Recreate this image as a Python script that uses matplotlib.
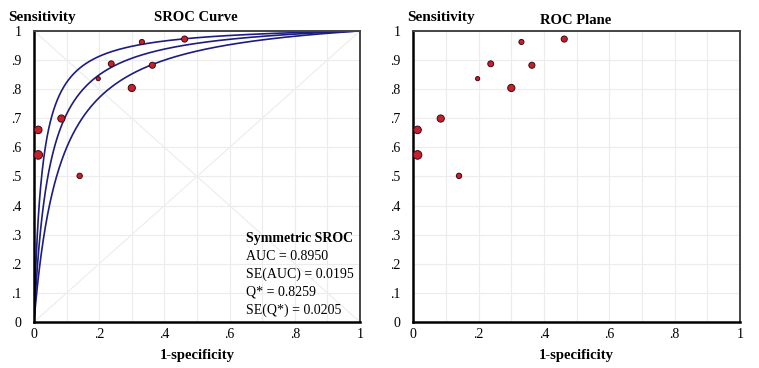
import numpy as np
import matplotlib.pyplot as plt

# study points: 1-specificity, sensitivity, marker diameter (px)
fpr = [0.013, 0.013, 0.084, 0.140, 0.197, 0.237, 0.300, 0.331, 0.363, 0.462]
tpr = [0.660, 0.574, 0.699, 0.502, 0.836, 0.887, 0.804, 0.962, 0.882, 0.972]
weight = [7.6, 8.6, 7.2, 5.4, 4.2, 5.9, 7.2, 5.1, 6.1, 6.1]

# symmetric SROC summary
auc = 0.8950
se_auc = 0.0195
q_star = 0.8259
se_q = 0.0205

ticks = [0, .1, .2, .3, .4, .5, .6, .7, .8, .9, 1]
tick_labels = ["0", ".1", ".2", ".3", ".4", ".5", ".6", ".7", ".8", ".9", "1"]
xticks = [0, .2, .4, .6, .8, 1]
xtick_labels = ["0", ".2", ".4", ".6", ".8", "1"]

plt.rcParams['font.family'] = ['Liberation Serif', 'DejaVu Serif']

FILL = '#c81f2c'
EDGE = '#3a0a12'
NAVY = '#1c1c82'


def logit(p):
    return np.log(p / (1 - p))


def sroc(q, x):
    a = 2 * logit(q)
    return 1 / (1 + np.exp(-(a + logit(x))))


def style_axes(ax):
    ax.set_xlim(0, 1)
    ax.set_ylim(0, 1)
    ax.set_xticks(ticks, minor=True)
    ax.set_yticks(ticks)
    ax.set_yticklabels(tick_labels, fontsize=10)
    ax.set_xticks(xticks)
    ax.set_xticklabels(xtick_labels, fontsize=10)
    ax.grid(True, which='both', color='#ececec', lw=0.8)
    ax.tick_params(which='both', length=0)
    ax.tick_params(axis='x', pad=4)
    ax.tick_params(axis='y', pad=9)
    ax.set_axisbelow(True)
    ax.spines['left'].set_linewidth(1.8)
    ax.spines['bottom'].set_linewidth(1.8)
    ax.spines['top'].set_color('#444444')
    ax.spines['right'].set_color('#444444')
    ax.spines['top'].set_linewidth(1.4)
    ax.spines['right'].set_linewidth(1.4)
    ax.set_xlabel("1-specificity", fontsize=10.5, fontweight='bold', labelpad=6)


def draw_points(ax):
    ax.scatter(fpr, tpr, s=[(w * 0.72) ** 2 for w in weight], c=FILL,
               edgecolors=EDGE, linewidths=0.7, zorder=3, clip_on=False)


fig = plt.figure(figsize=(7.59, 3.68), dpi=100)
ax1 = fig.add_axes([0.0448, 0.125, 0.4295, 0.791])
ax2 = fig.add_axes([0.5445, 0.125, 0.4305, 0.791])

# left: SROC curve
style_axes(ax1)
ax1.plot([0, 1], [0, 1], color='#ececec', lw=0.8, zorder=1)
ax1.plot([0, 1], [1, 0], color='#ececec', lw=0.8, zorder=1)
xs = np.linspace(1e-5, 1, 600)
for q in [q_star - 1.96 * se_q, q_star, q_star + 1.96 * se_q]:
    ax1.plot(xs, sroc(q, xs), color=NAVY, lw=1.2, zorder=2)
draw_points(ax1)
ax1.text(0.65, 0.274, "Symmetric SROC", fontsize=10, fontweight='bold',
         transform=ax1.transAxes, va='baseline')
lines = ["AUC = %.4f" % auc, "SE(AUC) = %.4f" % se_auc,
         "Q* = %.4f" % q_star, "SE(Q*) = %.4f" % se_q]
for i, s in enumerate(lines):
    ax1.text(0.65, 0.212 - i * 0.061, s, fontsize=10,
             transform=ax1.transAxes, va='baseline')
fig.text(0.011, 0.943, "Sensitivity", fontsize=11, fontweight='bold', va='baseline')
fig.text(0.258, 0.943, "SROC Curve", fontsize=10.5, fontweight='bold',
         ha='center', va='baseline')

# right: ROC plane
draw_points(ax2)
style_axes(ax2)
fig.text(0.536, 0.943, "Sensitivity", fontsize=11, fontweight='bold', va='baseline')
fig.text(0.758, 0.935, "ROC Plane", fontsize=10.5, fontweight='bold',
         ha='center', va='baseline')

fig.savefig("out.png", dpi=100)
